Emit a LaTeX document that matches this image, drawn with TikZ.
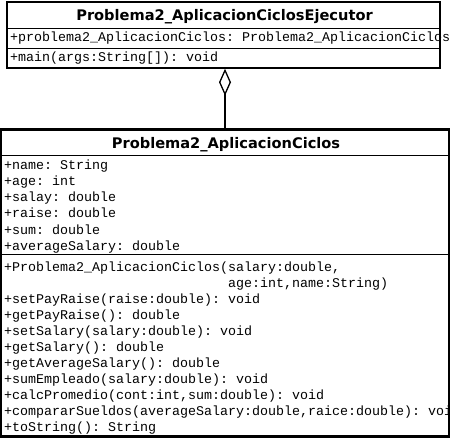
\documentclass[tikz,border=0pt]{standalone}
\usepackage{fontspec}
\setmonofont{Liberation Mono}
\newfontfamily\titlefam{DejaVu Sans}
\usetikzlibrary{arrows.meta}
\tikzset{
  classbox/.style={draw, line width=1.5bp, rectangle, inner sep=0pt},
  sepline/.style={line width=1bp},
  mono/.style={font=\ttfamily\fontsize{13.33bp}{16bp}\selectfont, anchor=base west, inner sep=0pt},
  classtitle/.style={font=\titlefam\bfseries\fontsize{14.6bp}{18bp}\selectfont, inner sep=0pt, anchor=base},
  aggr/.style={line width=1.3bp, -{Diamond[open,length=27bp,width=12bp]}}
}
\begin{document}
\begin{tikzpicture}[x=1bp,y=-1bp]
\useasboundingbox (0,0) rectangle (450,439);
\fill[white] (0,0) rectangle (450,439);
% top class
\node[classbox, minimum width=433bp, minimum height=66bp] (ejec) at (223.5,35) {};
\node[classtitle] (ejectitle) at (224.5,21) {Problema2\_AplicacionCiclosEjecutor};
\draw[sepline] (ejec.west |- 0,29) -- (ejec.east |- 0,29);
\draw[sepline] (ejec.west |- 0,49) -- (ejec.east |- 0,49);
\node[mono] (ejecattr) at (10,42) {+problema2\_AplicacionCiclos: Problema2\_AplicacionCiclos};
\node[mono] (ejecmain) at (10,62) {+main(args:String[]): void};
% bottom class
\node[classbox, minimum width=448bp, minimum height=306bp] (apli) at (225,283) {};
\node[classtitle] (aplititle) at (226,148.5) {Problema2\_AplicacionCiclos};
\draw[sepline] (apli.west |- 0,156) -- (apli.east |- 0,156);
\draw[sepline] (apli.west |- 0,254) -- (apli.east |- 0,254);
\begin{scope}
\clip (1,130) rectangle (448,436);
\node[mono] (a1) at (4,170) {+name: String};
\node[mono] (a2) at (4,186) {+age: int};
\node[mono] (a3) at (4,202) {+salay: double};
\node[mono] (a4) at (4,218) {+raise: double};
\node[mono] (a5) at (4,234) {+sum: double};
\node[mono] (a6) at (4,250) {+averageSalary: double};
\node[mono] (m1) at (4,271) {+Problema2\_AplicacionCiclos(salary:double,};
\node[mono] (m1b) at (228,287) {age:int,name:String)};
\node[mono] (m2) at (4,303) {+setPayRaise(raise:double): void};
\node[mono] (m3) at (4,319) {+getPayRaise(): double};
\node[mono] (m4) at (4,335) {+setSalary(salary:double): void};
\node[mono] (m5) at (4,351) {+getSalary(): double};
\node[mono] (m6) at (4,367) {+getAverageSalary(): double};
\node[mono] (m7) at (4,383) {+sumEmpleado(salary:double): void};
\node[mono] (m8) at (4,399) {+calcPromedio(cont:int,sum:double): void};
\node[mono] (m9) at (4,415) {+compararSueldos(averageSalary:double,raice:double): void};
\node[mono] (m10) at (4,431) {+toString(): String};
\end{scope}
\draw[classbox] (apli.south west) rectangle (apli.north east);
% aggregation
\draw[aggr] (apli.north -| 225,0) -- (ejec.south -| 225,0);
\end{tikzpicture}
\end{document}
